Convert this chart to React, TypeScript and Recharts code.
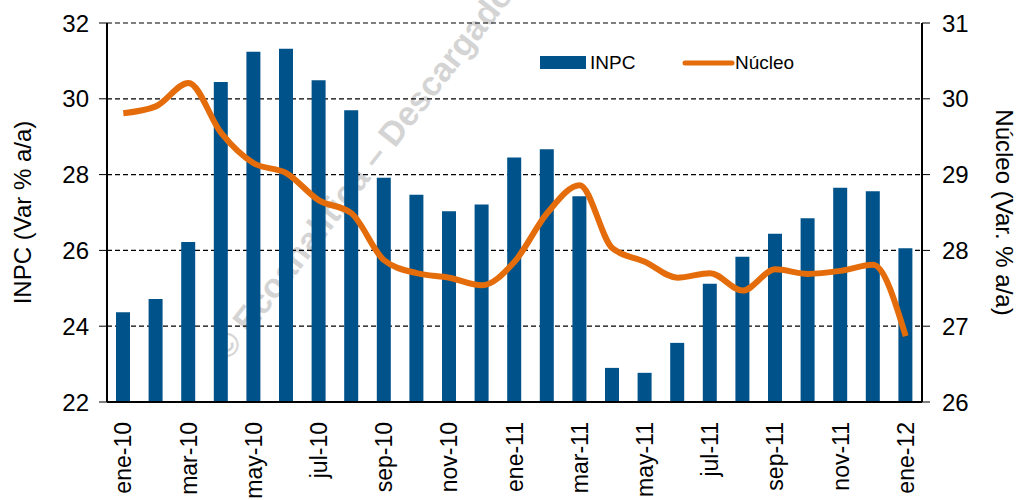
import React from 'react';
import { ComposedChart, Bar, Line, XAxis, YAxis, CartesianGrid } from 'recharts';

const months = [
  'ene-10', 'feb-10', 'mar-10', 'abr-10', 'may-10', 'jun-10', 'jul-10', 'ago-10', 'sep-10', 'oct-10', 'nov-10', 'dic-10',
  'ene-11', 'feb-11', 'mar-11', 'abr-11', 'may-11', 'jun-11', 'jul-11', 'ago-11', 'sep-11', 'oct-11', 'nov-11', 'dic-11',
  'ene-12',
];
const inpc = [
  24.37, 24.72, 26.22, 30.44, 31.24, 31.32, 30.49, 29.7, 27.92, 27.47, 27.03, 27.21,
  28.45, 28.67, 27.43, 22.9, 22.77, 23.56, 25.12, 25.83, 26.44, 26.85, 27.65, 27.56,
  26.06,
];
const nucleo = [
  29.81, 29.9, 30.21, 29.55, 29.15, 29.02, 28.66, 28.49, 27.87, 27.7, 27.64, 27.54,
  27.85, 28.49, 28.86, 28.03, 27.85, 27.64, 27.7, 27.47, 27.75, 27.69, 27.73, 27.81,
  26.87,
];
const leftTicks = [22, 24, 26, 28, 30, 32];
const rightTicks = [26, 27, 28, 29, 30, 31];

const data = months.map((m, i) => ({ month: m, inpc: inpc[i], nucleo: nucleo[i] }));

const FONT = '"Liberation Sans", Arial, sans-serif';
const BLUE = '#00538A';
const ORANGE = '#E46C0A';

const MonthTick = (props: any) => {
  const { x, y, payload } = props;
  const ty = y + 12;
  return (
    <text x={x} y={ty} transform={`rotate(-90, ${x}, ${ty})`} textAnchor="end" dy="0.35em"
      fontSize={23} fontFamily={FONT} fill="#000">
      {payload.value}
    </text>
  );
};

export default function App() {
  return (
    <div style={{ position: 'absolute', left: 0, top: 0, width: 1021, height: 500, background: '#fff', overflow: 'hidden' }}>
      <svg width={1021} height={500} style={{ position: 'absolute', left: 0, top: 0 }}>
        <text x={228} y={362} transform="rotate(-52, 228, 362)" fontSize={34} fontWeight="bold"
          fontFamily={FONT} fill="#d4d4d4">
          © Ecoanalítica – Descargado por
        </text>
      </svg>
      <div style={{ position: 'absolute', left: 0, top: 0 }}>
        <ComposedChart width={1021} height={500} data={data}
          margin={{ top: 23, right: 0, bottom: 0, left: 0 }}>
          <CartesianGrid yAxisId="left" vertical={false} stroke="#000" strokeWidth={1.2} strokeDasharray="5 3" />
          <XAxis dataKey="month" height={98} interval={1} tickLine={false}
            axisLine={{ stroke: '#000', strokeWidth: 2 }} tick={<MonthTick />} />
          <YAxis yAxisId="left" width={107} domain={[22, 32]} ticks={leftTicks} allowDataOverflow
            tickSize={8} tickMargin={10} axisLine={{ stroke: '#000', strokeWidth: 2 }} tickLine={{ stroke: '#000' }}
            tick={{ fontSize: 24, fill: '#000', fontFamily: FONT }}
            label={{ value: 'INPC (Var % a/a)', angle: -90, position: 'insideLeft', offset: 22,
              style: { fontSize: 24, fill: '#000', fontFamily: FONT, textAnchor: 'middle' } }} />
          <YAxis yAxisId="right" orientation="right" width={99} domain={[26, 31]} ticks={rightTicks} allowDataOverflow
            tickSize={8} tickMargin={12} axisLine={{ stroke: '#000', strokeWidth: 2 }} tickLine={{ stroke: '#000' }}
            tick={{ fontSize: 24, fill: '#000', fontFamily: FONT }}
            label={{ value: 'Núcleo (Var. % a/a)', angle: 90, position: 'insideRight', offset: 16,
              style: { fontSize: 24, fill: '#000', fontFamily: FONT, textAnchor: 'middle' } }} />
          <Bar yAxisId="left" dataKey="inpc" name="INPC" fill={BLUE} barSize={14} isAnimationActive={false} />
          <Line yAxisId="right" dataKey="nucleo" name="Núcleo" type="monotone" stroke={ORANGE} strokeWidth={6}
            dot={false} isAnimationActive={false} />
        </ComposedChart>
      </div>
      <svg width={300} height={30} style={{ position: 'absolute', left: 540, top: 50 }}>
        <rect x={0} y={6} width={46} height={13} fill={BLUE} />
        <text x={50} y={19} fontSize={19} fontFamily={FONT} fill="#000">INPC</text>
        <line x1={145} y1={13} x2={192} y2={13} stroke={ORANGE} strokeWidth={5} strokeLinecap="round" />
        <text x={195} y={19} fontSize={19} fontFamily={FONT} fill="#000">Núcleo</text>
      </svg>
    </div>
  );
}
